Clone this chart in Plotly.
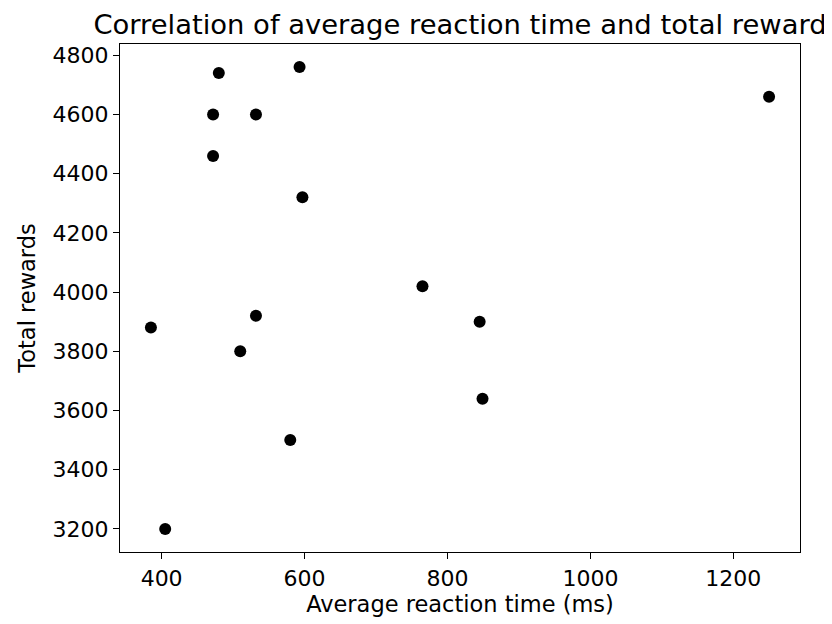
import plotly.graph_objects as go

reaction_time = [385, 405, 472, 472, 480, 510, 532, 532, 580, 593, 597, 765, 845, 849, 1250]
total_rewards = [3880, 3200, 4600, 4460, 4740, 3800, 4600, 3920, 3500, 4760, 4320, 4020, 3900, 3640, 4660]
x_ticks = [400, 600, 800, 1000, 1200]
y_ticks = [3200, 3400, 3600, 3800, 4000, 4200, 4400, 4600, 4800]

FONT = "DejaVu Sans"
# page body has an 8px margin, so the figure is drawn 8px smaller and offset
W, H = 824, 616

fig = go.Figure(go.Scatter(
    x=reaction_time, y=total_rewards, mode="markers",
    marker=dict(color="black", size=12, line=dict(width=0)),
))

xr = max(reaction_time) - min(reaction_time)
yr = max(total_rewards) - min(total_rewards)

axis_common = dict(
    showline=True, linecolor="black", linewidth=1.3, mirror=True,
    ticks="outside", ticklen=6, tickwidth=1.3, tickcolor="black",
    showgrid=False, zeroline=False,
    tickfont=dict(family=FONT, size=22, color="black"),
)

fig.update_layout(
    width=W, height=H,
    margin=dict(l=112, r=32, t=36, b=72, autoexpand=False),
    paper_bgcolor="white", plot_bgcolor="white",
    showlegend=False,
    title=dict(text="Correlation of average reaction time and total reward",
               x=(460 - 8) / W, xanchor="center", y=1 - 16 / H, yanchor="middle",
               font=dict(family=FONT, size=27.4, color="black")),
    xaxis=dict(range=[min(reaction_time) - 0.05*xr, max(reaction_time) + 0.05*xr],
               tickvals=x_ticks, automargin=False,
               title=dict(text="Average reaction time (ms)", standoff=3,
                          font=dict(family=FONT, size=22.5, color="black")),
               **axis_common),
    yaxis=dict(range=[min(total_rewards) - 0.05*yr, max(total_rewards) + 0.05*yr],
               tickvals=y_ticks, automargin=False,
               title=dict(text="Total rewards", standoff=10,
                          font=dict(family=FONT, size=22.5, color="black")),
               **axis_common),
)

fig.write_html("out.html")
